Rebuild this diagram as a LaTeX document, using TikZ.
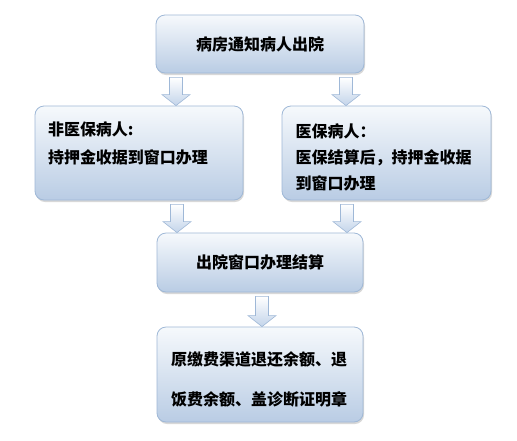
\documentclass[tikz,border=0pt]{standalone}
\usepackage{fontspec}
\setmainfont{Noto Sans CJK SC}
\usetikzlibrary{shadings,shadows,calc}

\definecolor{boxtop}{HTML}{F6F9FC}
\definecolor{boxbottom}{HTML}{B9CCE4}
\definecolor{boxline}{HTML}{9FB8D7}
\definecolor{arrowbottom}{HTML}{C3D4EA}

\tikzset{
  stepbox/.style={draw=boxline, line width=0.8pt, rounded corners=9pt,
    top color=boxtop, bottom color=boxbottom, inner sep=0pt,
    drop shadow={shadow xshift=1pt, shadow yshift=-2pt, opacity=0.3},
    font=\fontsize{16pt}{20pt}\selectfont\bfseries},
  blockarrow/.style={draw=boxline, line width=0.6pt, top color=white, bottom color=arrowbottom}
}

% text block: height, width, line skip, lines
\newcommand{\boxtext}[4]{\parbox[c][#1][t]{#2}{\raggedright\fontsize{16pt}{#3}\selectfont #4}}

% block arrow at x=#1 from node #2 down to node #3
\newcommand{\blkarrow}[3]{%
  \path[blockarrow] let \p1=([yshift=-4pt]#2.south), \p2=(#3.north) in
    (#1pt-6.5pt,\y1) -- (#1pt+6.5pt,\y1) -- (#1pt+6.5pt,\y2+11pt) -- (#1pt+14pt,\y2+11pt)
    -- (#1pt,\y2) -- (#1pt-14pt,\y2+11pt) -- (#1pt-6.5pt,\y2+11pt) -- cycle;}

\begin{document}
\begin{tikzpicture}[x=1pt,y=-1pt]
    \fill[white] (0,0) rectangle (517,440);
    \useasboundingbox (0,0) rectangle (517,440);

    \node[stepbox, minimum width=208pt, minimum height=58pt] (notice) at (260,44) {病房通知病人出院};
    \node[stepbox, minimum width=208pt, minimum height=94pt] (nonins) at (139,153)
      {\boxtext{62pt}{182pt}{28pt}{非医保病人:\\持押金收据到窗口办理}};
    \node[stepbox, minimum width=209pt, minimum height=94pt] (ins) at (386.5,153)
      {\boxtext{58pt}{182pt}{26pt}{医保病人：\\医保结算后，持押金收据\\到窗口办理}};
    \node[stepbox, minimum width=206pt, minimum height=59pt] (settle) at (260,262.5) {出院窗口办理结算};
    \node[stepbox, minimum width=206pt, minimum height=95pt] (refund) at (260,374.5)
      {\boxtext{45pt}{178pt}{40pt}{原缴费渠道退还余额、退\\饭费余额、盖诊断证明章}};

    \foreach \ax/\from/\to in {176/notice/nonins, 346/notice/ins, 177/nonins/settle,
                               347/ins/settle, 262/settle/refund}
      {\blkarrow{\ax}{\from}{\to}}
\end{tikzpicture}
\end{document}
